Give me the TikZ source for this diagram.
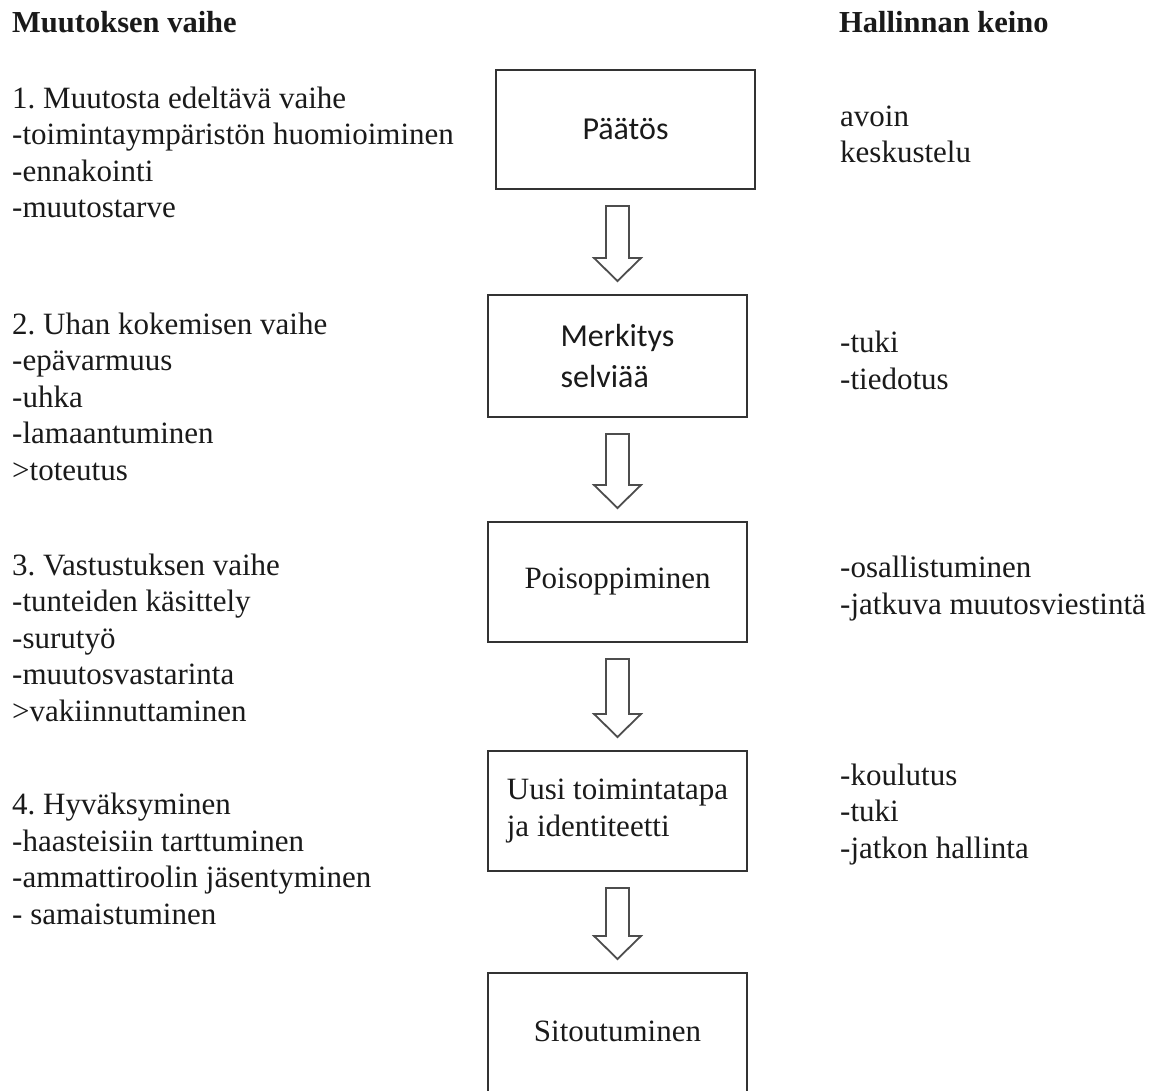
\documentclass[tikz,border=0pt]{standalone}
\usepackage{fontspec}
\setmainfont{Liberation Serif}
\newfontfamily\boxsansfamily{Carlito}
\usetikzlibrary{calc}
\frenchspacing
\definecolor{boxcol}{HTML}{333333}
\definecolor{arrcol}{HTML}{4D4D4D}
\definecolor{txtcol}{HTML}{1A1A1A}
\newcommand\txtfont{\fontsize{31}{36.5}\selectfont}
\newcommand\hdfont{\fontsize{30.5}{36}\selectfont\bfseries}
\newcommand\sansboxfont{\boxsansfamily\fontsize{32}{41}\selectfont}
\newcommand\blockarrow[2]{%
  \path (#2.north |- #1.south) ++(0,16) coordinate (#1-#2-top)
        (#2.north) ++(0,-13) coordinate (#1-#2-tip);
  \draw[barrowstyle] let \p1=(#1-#2-top), \p2=(#1-#2-tip) in
    (\x1-11.5pt,\y1) -- (\x1+11.5pt,\y1) -- (\x1+11.5pt,\y2+23pt) --
    (\x1+23.5pt,\y2+23pt) -- (\x1,\y2) -- (\x1-23.5pt,\y2+23pt) --
    (\x1-11.5pt,\y2+23pt) -- cycle;}
\begin{document}
\begin{tikzpicture}[x=1pt,y=-1pt,
  box/.style={draw=boxcol, line width=2pt, minimum width=259pt, inner sep=0pt,
              align=left, font=\txtfont, text=txtcol},
  sansbox/.style={box, font=\sansboxfont},
  lbl/.style={anchor=base west, inner sep=0pt, align=left, font=\txtfont, text=txtcol},
  hd/.style={anchor=base west, inner sep=0pt, font=\hdfont, text=txtcol},
  barrowstyle/.style={draw=arrcol, line width=1.8pt, line join=miter, fill=white}]
\useasboundingbox (0,0) rectangle (1166,1091);
\fill[white] (0,0) rectangle (1166,1091);

% headers
\node[hd] (h1) at (12,33) {Muutoksen vaihe};
\node[hd] (h2) at (839,33) {Hallinnan keino};

% left column (anchor = baseline of the last line)
\node[lbl] (l1) at (12,218) {1. Muutosta edeltävä vaihe\\-toimintaympäristön huomioiminen\\-ennakointi\\-muutostarve};
\node[lbl] (l2) at (12,480) {2. Uhan kokemisen vaihe\\-epävarmuus\\-uhka\\-lamaantuminen\\>toteutus};
\node[lbl] (l3) at (12,721) {3. Vastustuksen vaihe\\-tunteiden käsittely\\-surutyö\\-muutosvastarinta\\>vakiinnuttaminen};
\node[lbl] (l4) at (12,924) {4. Hyväksyminen\\-haasteisiin tarttuminen\\-ammattiroolin jäsentyminen\\- samaistuminen};

% right column
\node[lbl] (r1) at (840,163) {avoin\\keskustelu};
\node[lbl] (r2) at (840,389) {-tuki\\-tiedotus};
\node[lbl] (r3) at (840,614) {-osallistuminen\\-jatkuva muutosviestintä};
\node[lbl] (r4) at (840,858) {-koulutus\\-tuki\\-jatkon hallinta};

% boxes
\node[sansbox, minimum height=119pt] (b1) at (625.5,129.5) {Päätös};
\node[sansbox, minimum height=122pt] (b2) at (617.5,356) {Merkitys\\selviää};
\node[box, minimum height=120pt] (b3) at (617.5,582) {Poisoppiminen};
\node[box, minimum height=120pt] (b4) at (617.5,811) {Uusi toimintatapa\\ja identiteetti};
\node[box, minimum height=125pt, text depth=8pt] (b5) at (617.5,1035.5) {Sitoutuminen};

% block arrows
\blockarrow{b1}{b2}
\blockarrow{b2}{b3}
\blockarrow{b3}{b4}
\blockarrow{b4}{b5}
\end{tikzpicture}
\end{document}
